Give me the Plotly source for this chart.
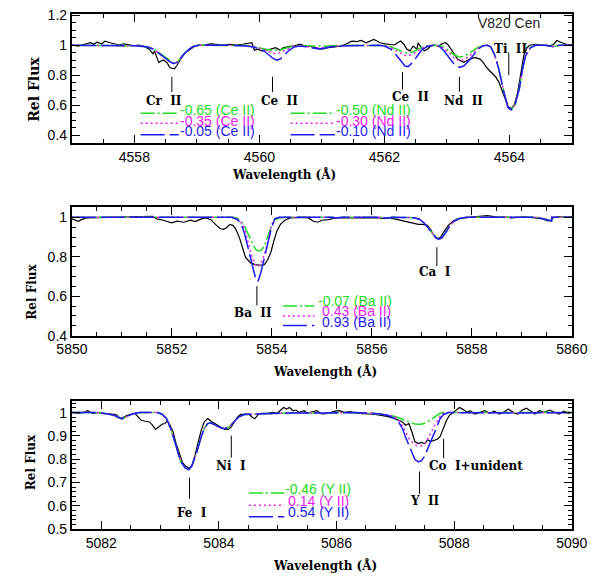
import plotly.graph_objects as go

# ---------------- panel 1 : Ce II / Nd II region ----------------
P1_OBS_W = [4557.00, 4557.10, 4557.20, 4557.30, 4557.35, 4557.40, 4557.48, 4557.53, 4557.61, 4557.68,
            4557.76, 4557.83, 4557.91, 4558.00, 4558.06, 4558.14, 4558.24, 4558.30, 4558.32, 4558.39,
            4558.46, 4558.52, 4558.57, 4558.64, 4558.68, 4558.74, 4558.82, 4558.89, 4558.97, 4559.02,
            4559.12, 4559.22, 4559.32, 4559.42, 4559.53, 4559.63, 4559.73, 4559.83, 4559.88, 4559.92,
            4559.98, 4560.03, 4560.11, 4560.18, 4560.26, 4560.33, 4560.38, 4560.43, 4560.51, 4560.56,
            4560.64, 4560.74, 4560.80, 4560.89, 4561.00, 4561.10, 4561.20, 4561.30, 4561.38, 4561.43,
            4561.48, 4561.56, 4561.63, 4561.71, 4561.78, 4561.83, 4561.88, 4561.93, 4562.01, 4562.09,
            4562.16, 4562.21, 4562.26, 4562.31, 4562.36, 4562.41, 4562.46, 4562.52, 4562.54, 4562.59,
            4562.64, 4562.69, 4562.74, 4562.79, 4562.87, 4562.92, 4562.98, 4563.02, 4563.07, 4563.12,
            4563.17, 4563.22, 4563.27, 4563.32, 4563.37, 4563.45, 4563.53, 4563.58, 4563.63, 4563.68,
            4563.73, 4563.78, 4563.83, 4563.88, 4563.93, 4563.98, 4564.03, 4564.08, 4564.13, 4564.18,
            4564.23, 4564.28, 4564.33, 4564.43, 4564.54, 4564.64, 4564.71, 4564.76, 4564.84, 4564.91,
            4565.00]
P1_OBS_F = [1.002, 0.995, 1.007, 1.017, 1.007, 1.021, 1.010, 1.028, 1.017, 1.010,
            1.002, 1.010, 1.002, 0.997, 1.002, 0.995, 0.974, 0.941, 0.963, 0.886,
            0.902, 0.886, 0.850, 0.843, 0.865, 0.908, 0.952, 0.974, 0.995, 1.002,
            1.002, 1.010, 1.007, 1.002, 1.007, 1.002, 1.007, 1.017, 1.017, 0.967,
            0.974, 0.963, 0.967, 0.974, 0.984, 0.967, 0.984, 0.989, 0.995, 0.995,
            1.007, 0.995, 0.995, 0.984, 0.974, 0.984, 0.989, 0.995, 1.007, 1.017,
            1.028, 1.024, 1.032, 1.017, 1.028, 1.039, 1.028, 1.017, 1.010, 1.007,
            1.002, 1.017, 1.028, 1.007, 0.974, 0.963, 0.995, 0.974, 1.017, 0.984,
            0.963, 0.974, 0.995, 1.002, 0.995, 1.010, 1.017, 1.002, 0.974, 0.941,
            0.908, 0.897, 0.886, 0.897, 0.908, 0.919, 0.908, 0.886, 0.854, 0.832,
            0.810, 0.789, 0.756, 0.702, 0.636, 0.590, 0.577, 0.604, 0.680, 0.810,
            0.930, 0.984, 1.002, 1.007, 1.002, 0.995, 1.007, 1.032, 1.017, 1.007,
            1.002]

P1_SYN_W = [4557.0, 4557.5, 4558.0, 4558.2, 4558.3, 4558.4, 4558.5, 4558.57, 4558.63, 4558.7,
            4558.77, 4558.85, 4558.93, 4559.03, 4559.5, 4559.8, 4559.9, 4560.0, 4560.08, 4560.15,
            4560.22, 4560.28, 4560.34, 4560.4, 4560.47, 4560.55, 4560.65, 4560.75, 4560.85, 4560.95,
            4561.05, 4561.15, 4561.3, 4561.6, 4561.9, 4562.0, 4562.1, 4562.18, 4562.26, 4562.33,
            4562.38, 4562.45, 4562.52, 4562.6, 4562.7, 4562.8, 4562.87, 4562.95, 4563.05, 4563.12,
            4563.2, 4563.27, 4563.35, 4563.43, 4563.5, 4563.58, 4563.65, 4563.7, 4563.76, 4563.83,
            4563.91, 4563.98, 4564.03, 4564.09, 4564.16, 4564.21, 4564.26, 4564.34, 4564.42, 4564.6,
            4564.7, 4564.8, 4565.0]
# synthetic spectra: low / mid / high abundance
P1_SYN_LO = [1.0, 1.0, 0.997, 0.99, 0.977, 0.95, 0.918, 0.895, 0.882, 0.894,
             0.932, 0.966, 0.99, 1.0, 1.0, 0.998, 0.99, 0.984, 0.977, 0.97,
             0.965, 0.965, 0.97, 0.978, 0.988, 0.995, 0.998, 0.997, 0.994, 0.992,
             0.994, 0.997, 1.0, 1.0, 1.0, 0.998, 0.99, 0.975, 0.958, 0.95,
             0.948, 0.955, 0.97, 0.988, 0.998, 1.0, 0.998, 0.988, 0.96, 0.935,
             0.922, 0.925, 0.945, 0.968, 0.988, 0.998, 1.0, 0.99, 0.94, 0.843,
             0.69, 0.582, 0.570, 0.603, 0.712, 0.843, 0.93, 0.985, 1.0, 1.0,
             0.99, 1.0, 1.0]
P1_SYN_MID = [1.0, 1.0, 0.997, 0.99, 0.975, 0.945, 0.912, 0.89, 0.877, 0.89,
              0.93, 0.965, 0.99, 1.0, 1.0, 0.997, 0.99, 0.982, 0.97, 0.958,
              0.947, 0.945, 0.952, 0.965, 0.98, 0.992, 0.996, 0.992, 0.985, 0.98,
              0.985, 0.992, 0.997, 1.0, 1.0, 0.997, 0.985, 0.965, 0.945, 0.932,
              0.93, 0.94, 0.958, 0.98, 0.997, 1.0, 0.997, 0.978, 0.945, 0.912,
              0.898, 0.903, 0.925, 0.955, 0.98, 0.997, 1.0, 0.99, 0.94, 0.843,
              0.69, 0.582, 0.570, 0.603, 0.712, 0.843, 0.93, 0.985, 1.0, 1.0,
              0.99, 1.0, 1.0]
P1_SYN_HI = [1.0, 1.0, 0.997, 0.99, 0.975, 0.945, 0.912, 0.89, 0.877, 0.89,
             0.93, 0.965, 0.99, 1.0, 1.0, 0.996, 0.988, 0.977, 0.96, 0.937,
             0.912, 0.9, 0.91, 0.935, 0.965, 0.988, 0.995, 0.99, 0.98, 0.975,
             0.982, 0.99, 0.996, 1.0, 1.0, 0.995, 0.975, 0.94, 0.9, 0.862,
             0.858, 0.885, 0.925, 0.97, 0.995, 1.0, 0.995, 0.965, 0.91, 0.872,
             0.853, 0.862, 0.895, 0.94, 0.975, 0.997, 1.0, 0.99, 0.94, 0.843,
             0.69, 0.582, 0.570, 0.603, 0.712, 0.843, 0.93, 0.985, 1.0, 1.0,
             0.99, 1.0, 1.0]
P1_CE_ABUND = ["-0.65", "-0.35", "-0.05"]
P1_ND_ABUND = ["-0.50", "-0.30", "-0.10"]
P1_IDS = [("Cr\u00a0\u00a0II", 4558.60), ("Ce\u00a0\u00a0II", 4560.21), ("Ce\u00a0\u00a0II", 4562.29),
          ("Nd\u00a0\u00a0II", 4563.20), ("Ti\u00a0\u00a0II", 4563.99)]

# ---------------- panel 2 : Ba II 5853 ----------------
P2_OBS_W = [5850.00, 5850.06, 5850.13, 5850.19, 5850.28, 5850.51, 5850.76, 5851.01, 5851.26, 5851.52,
            5851.61, 5851.70, 5851.83, 5851.99, 5852.11, 5852.24, 5852.37, 5852.46, 5852.59, 5852.68,
            5852.78, 5852.87, 5852.97, 5853.03, 5853.09, 5853.16, 5853.22, 5853.28, 5853.35, 5853.41,
            5853.47, 5853.57, 5853.66, 5853.79, 5853.85, 5853.91, 5853.98, 5854.04, 5854.10, 5854.17,
            5854.26, 5854.36, 5854.48, 5854.61, 5854.73, 5854.83, 5854.92, 5855.00, 5855.13, 5855.25,
            5855.38, 5855.63, 5856.01, 5856.14, 5856.26, 5856.33, 5856.45, 5856.58, 5856.70, 5856.83,
            5856.93, 5857.02, 5857.11, 5857.18, 5857.24, 5857.30, 5857.37, 5857.43, 5857.53, 5857.62,
            5857.71, 5857.84, 5858.03, 5858.22, 5858.31, 5858.41, 5858.54, 5858.66, 5858.79, 5858.91,
            5859.04, 5859.17, 5859.29, 5859.42, 5859.51, 5859.58, 5859.64, 5859.73, 5860.00]
P2_OBS_F = [0.992, 0.985, 0.980, 0.988, 0.997, 0.998, 1.000, 1.002, 1.005, 1.008,
            1.005, 0.992, 0.985, 0.972, 0.980, 0.975, 0.985, 0.978, 0.992, 0.997,
            0.988, 0.964, 0.942, 0.939, 0.947, 0.964, 0.959, 0.939, 0.897, 0.848,
            0.798, 0.770, 0.760, 0.757, 0.760, 0.782, 0.823, 0.881, 0.931, 0.964,
            0.985, 0.997, 1.000, 1.000, 0.997, 0.980, 0.975, 0.985, 0.988, 0.995,
            0.998, 0.998, 1.000, 0.997, 0.993, 0.997, 0.992, 0.985, 0.975, 0.969,
            0.964, 0.964, 0.959, 0.935, 0.909, 0.892, 0.897, 0.922, 0.959, 0.980,
            0.992, 0.997, 1.000, 1.005, 1.008, 1.005, 1.000, 1.002, 0.997, 1.000,
            1.002, 1.000, 0.997, 0.992, 0.982, 0.985, 1.000, 1.002, 1.002]

P2_SYN_W = [5850.0, 5853.2, 5853.3, 5853.38, 5853.45, 5853.52, 5853.6, 5853.67, 5853.72, 5853.78,
            5853.85, 5853.92, 5853.99, 5854.06, 5854.15, 5854.3, 5855.2, 5855.3, 5855.4, 5856.2,
            5856.3, 5856.4, 5856.85, 5856.95, 5857.05, 5857.13, 5857.21, 5857.28, 5857.34, 5857.40,
            5857.47, 5857.55, 5857.64, 5857.75, 5857.9, 5859.3, 5859.42, 5859.52, 5859.595, 5859.6,
            5860.0]
P2_SYN_LO = [1.0, 1.0, 0.996, 0.98, 0.955, 0.915, 0.87, 0.838, 0.83, 0.832,
             0.855, 0.905, 0.955, 0.985, 0.997, 1.0, 1.0, 0.996, 1.0, 1.0,
             0.995, 1.0, 0.998, 0.99, 0.97, 0.945, 0.918, 0.896, 0.889, 0.896,
             0.92, 0.953, 0.98, 0.994, 1.0, 1.0, 0.993, 0.985, 0.981, 1.0,
             1.0]
P2_SYN_MID = [1.0, 1.0, 0.993, 0.975, 0.945, 0.875, 0.8, 0.758, 0.747, 0.765,
              0.81, 0.88, 0.96, 0.993, 1.0, 1.0, 1.0, 0.996, 1.0, 1.0,
              0.995, 1.0, 0.998, 0.99, 0.97, 0.945, 0.918, 0.896, 0.889, 0.896,
              0.92, 0.953, 0.98, 0.994, 1.0, 1.0, 0.993, 0.985, 0.981, 1.0,
              1.0]
P2_SYN_HI = [1.0, 1.0, 0.99, 0.97, 0.92, 0.845, 0.76, 0.695, 0.674, 0.72,
             0.795, 0.87, 0.945, 0.993, 1.0, 1.0, 1.0, 0.996, 1.0, 1.0,
             0.995, 1.0, 0.998, 0.99, 0.97, 0.945, 0.918, 0.896, 0.889, 0.896,
             0.92, 0.953, 0.98, 0.994, 1.0, 1.0, 0.993, 0.985, 0.981, 1.0,
             1.0]
P2_BA_ABUND = ["-0.07", "0.43", "0.93"]
P2_IDS = [("Ba\u00a0\u00a0II", 5853.70), ("Ca\u00a0\u00a0I", 5857.30)]

# ---------------- panel 3 : Y II 5087 ----------------
P3_OBS_W = [5081.50, 5081.61, 5081.71, 5081.77, 5081.85, 5081.93, 5082.04, 5082.14, 5082.25, 5082.33,
            5082.39, 5082.44, 5082.52, 5082.57, 5082.63, 5082.68, 5082.73, 5082.82, 5082.87, 5082.92,
            5082.98, 5083.03, 5083.08, 5083.12, 5083.16, 5083.22, 5083.27, 5083.33, 5083.38, 5083.43,
            5083.49, 5083.54, 5083.59, 5083.65, 5083.70, 5083.75, 5083.81, 5083.86, 5083.94, 5084.02,
            5084.10, 5084.16, 5084.21, 5084.26, 5084.32, 5084.37, 5084.43, 5084.51, 5084.56, 5084.61,
            5084.67, 5084.72, 5084.83, 5084.91, 5084.99, 5085.04, 5085.10, 5085.15, 5085.20, 5085.26,
            5085.31, 5085.36, 5085.45, 5085.50, 5085.58, 5085.66, 5085.75, 5085.86, 5085.97, 5086.05,
            5086.13, 5086.23, 5086.34, 5086.45, 5086.56, 5086.66, 5086.77, 5086.88, 5086.99, 5087.07,
            5087.12, 5087.17, 5087.23, 5087.28, 5087.33, 5087.39, 5087.44, 5087.50, 5087.55, 5087.60,
            5087.66, 5087.71, 5087.76, 5087.82, 5087.87, 5087.92, 5087.98, 5088.03, 5088.09, 5088.14,
            5088.22, 5088.27, 5088.35, 5088.44, 5088.52, 5088.60, 5088.68, 5088.76, 5088.84, 5088.92,
            5089.00, 5089.08, 5089.16, 5089.23, 5089.29, 5089.37, 5089.45, 5089.53, 5089.62, 5089.70,
            5089.78, 5089.86, 5089.94, 5090.00]
P3_OBS_F = [1.001, 0.997, 1.001, 1.008, 0.997, 1.001, 0.997, 0.994, 0.992, 0.974,
            0.983, 0.988, 0.992, 0.997, 0.981, 0.967, 0.964, 0.960, 0.946, 0.928,
            0.939, 0.950, 0.953, 0.964, 0.950, 0.918, 0.869, 0.821, 0.786, 0.772,
            0.761, 0.772, 0.814, 0.876, 0.925, 0.960, 0.974, 0.964, 0.950, 0.939,
            0.928, 0.928, 0.939, 0.960, 0.983, 0.992, 0.994, 0.994, 0.981, 0.974,
            0.992, 0.997, 0.997, 1.001, 0.997, 1.008, 1.022, 1.015, 1.022, 1.008,
            1.011, 1.001, 1.008, 0.997, 1.001, 1.008, 0.994, 0.997, 1.006, 1.008,
            1.001, 1.004, 0.997, 0.994, 0.994, 0.992, 0.988, 0.983, 0.974, 0.967,
            0.960, 0.946, 0.953, 0.918, 0.876, 0.867, 0.872, 0.867, 0.883, 0.876,
            0.881, 0.886, 0.897, 0.932, 0.967, 0.988, 1.001, 1.011, 1.022, 1.015,
            1.001, 1.008, 0.994, 1.001, 1.008, 0.997, 1.006, 0.994, 1.001, 1.015,
            1.001, 0.994, 1.011, 1.019, 1.008, 0.994, 1.008, 1.001, 1.011, 1.001,
            0.994, 1.006, 0.997, 1.001]

P3_SYN_W = [5081.5, 5081.9, 5082.1, 5082.22, 5082.3, 5082.36, 5082.43, 5082.52, 5082.65, 5082.95,
            5083.03, 5083.11, 5083.19, 5083.27, 5083.35, 5083.43, 5083.49, 5083.54, 5083.62, 5083.70,
            5083.75, 5083.81, 5083.86, 5083.94, 5084.02, 5084.10, 5084.18, 5084.26, 5084.34, 5084.43,
            5084.72, 5085.2, 5085.8, 5086.3, 5086.6, 5086.75, 5086.88, 5086.99, 5087.07, 5087.12,
            5087.17, 5087.23, 5087.28, 5087.33, 5087.39, 5087.44, 5087.50, 5087.55, 5087.60, 5087.66,
            5087.71, 5087.76, 5087.82, 5087.9, 5088.0, 5089.0, 5090.0]
P3_SYN_LO = [1.0, 1.0, 0.995, 0.988, 0.978, 0.974, 0.982, 0.994, 1.0, 1.0,
             0.994, 0.974, 0.925, 0.853, 0.79, 0.762, 0.756, 0.772, 0.828, 0.897,
             0.932, 0.953, 0.956, 0.946, 0.936, 0.931, 0.94, 0.962, 0.982, 0.992,
             0.995, 0.998, 0.998, 1.0, 0.997, 0.994, 0.99, 0.983, 0.975, 0.97,
             0.965, 0.958, 0.954, 0.951, 0.95, 0.95, 0.954, 0.96, 0.969, 0.98,
             0.99, 0.997, 1.0, 1.0, 1.0, 0.998, 1.0]
P3_SYN_MID = [1.0, 1.0, 0.995, 0.988, 0.978, 0.974, 0.982, 0.994, 1.0, 1.0,
              0.994, 0.974, 0.925, 0.853, 0.79, 0.762, 0.756, 0.772, 0.828, 0.897,
              0.932, 0.953, 0.956, 0.946, 0.936, 0.931, 0.94, 0.962, 0.982, 0.992,
              0.995, 0.998, 0.998, 1.0, 0.997, 0.994, 0.99, 0.981, 0.962, 0.942,
              0.918, 0.89, 0.875, 0.862, 0.858, 0.858, 0.866, 0.886, 0.911, 0.942,
              0.965, 0.983, 0.997, 1.0, 1.0, 0.998, 1.0]
P3_SYN_HI = [1.0, 1.0, 0.995, 0.988, 0.978, 0.974, 0.982, 0.994, 1.0, 1.0,
             0.994, 0.974, 0.925, 0.853, 0.79, 0.762, 0.756, 0.772, 0.828, 0.897,
             0.932, 0.953, 0.956, 0.946, 0.936, 0.931, 0.94, 0.962, 0.982, 0.992,
             0.995, 0.998, 0.998, 1.0, 0.997, 0.994, 0.988, 0.974, 0.953, 0.932,
             0.897, 0.862, 0.828, 0.80, 0.789, 0.793, 0.814, 0.849, 0.876, 0.911,
             0.946, 0.974, 0.992, 1.0, 1.0, 0.998, 1.0]
P3_Y_ABUND = ["-0.46", "0.14", "0.54"]
P3_IDS = [("Fe\u00a0\u00a0I", 5083.50), ("Ni\u00a0\u00a0I", 5084.21), ("Y\u00a0\u00a0II", 5087.41),
          ("Co\u00a0\u00a0I+unident", 5087.82)]

# ---------------- styling ----------------
W, H = 604, 585
GREEN, MAGENTA, BLUE = "#22dd22", "#f020f0", "#1c1cf0"
DASHES = ["14px,3px,2px,3px", "2px,3px", "24px,5px"]
COLORS = [GREEN, MAGENTA, BLUE]
TICK_FONT = dict(family="Liberation Sans, Arial, sans-serif", size=14, color="black")
SERIF = "DejaVu Serif, serif"

X0, X1 = 59, 587
PANEL_PX = [(7.3, 139.3), (205.7, 337.3), (404.3, 536.0)]


def pxx(p):
    return p / W


def pxy(p):
    return 1 - p / H


fig = go.Figure()

panels = [
    dict(obs=(P1_OBS_W, P1_OBS_F), syn=(P1_SYN_W, [P1_SYN_LO, P1_SYN_MID, P1_SYN_HI]),
         xr=[4557, 4565], yr=[0.35, 1.208], ydt=0.2, ymin=0.05),
    dict(obs=(P2_OBS_W, P2_OBS_F), syn=(P2_SYN_W, [P2_SYN_LO, P2_SYN_MID, P2_SYN_HI]),
         xr=[5849.999, 5860.001], yr=[0.4, 1.05], ydt=0.2, ymin=0.05),
    dict(obs=(P3_OBS_W, P3_OBS_F), syn=(P3_SYN_W, [P3_SYN_LO, P3_SYN_MID, P3_SYN_HI]),
         xr=[5081.5, 5090.001], yr=[0.5, 1.05], ydt=0.1, ymin=0.02),
]

for i, p in enumerate(panels):
    xa = "x" if i == 0 else f"x{i + 1}"
    ya = "y" if i == 0 else f"y{i + 1}"
    fig.add_trace(go.Scatter(x=p["obs"][0], y=p["obs"][1], mode="lines", xaxis=xa, yaxis=ya,
                             line=dict(color="black", width=1.2), showlegend=False, hoverinfo="skip"))
    sw, fluxes = p["syn"]
    for f, c, d in zip(fluxes, COLORS, DASHES):
        fig.add_trace(go.Scatter(x=sw, y=f, mode="lines", xaxis=xa, yaxis=ya,
                                 line=dict(color=c, width=1.5, dash=d), showlegend=False,
                                 hoverinfo="skip"))
    top, bot = PANEL_PX[i]
    axis_common = dict(showline=True, linecolor="black", linewidth=2, mirror="allticks",
                       ticks="inside", ticklen=8, tickwidth=1.2, tickcolor="black",
                       showgrid=False, zeroline=False, tickfont=TICK_FONT)
    fig.layout[("xaxis" if i == 0 else f"xaxis{i + 1}")] = dict(
        domain=[pxx(X0), pxx(X1)], range=p["xr"], anchor=ya, dtick=2, tick0=0,
        minor=dict(dtick=0.5, ticklen=4, tickcolor="black", ticks="inside", tickwidth=1),
        **axis_common)
    fig.layout[("yaxis" if i == 0 else f"yaxis{i + 1}")] = dict(
        domain=[pxy(bot), pxy(top)], range=p["yr"], anchor=xa, dtick=p["ydt"], tick0=0,
        minor=dict(dtick=p["ymin"], ticklen=4, tickcolor="black", ticks="inside", tickwidth=1),
        **axis_common)


def legend_block(xa, ya, x_start, x_end, line_y, text_y, labels, species, shifts):
    for k in range(3):
        fig.add_trace(go.Scatter(x=[x_start, x_end], y=[line_y[k], line_y[k]], mode="lines",
                                 xaxis=xa, yaxis=ya, showlegend=False, hoverinfo="skip",
                                 line=dict(color=COLORS[k], width=1.5, dash=DASHES[k])))
        fig.add_annotation(x=x_end, y=text_y[k], xref=xa, yref=ya, text=f"{labels[k]} ({species})",
                           showarrow=False, xanchor="left", yanchor="middle", xshift=shifts[k] - 1,
                           font=dict(family="Liberation Sans, Arial, sans-serif", size=14,
                                     color=COLORS[k]))


def line_id(xa, ya, label, wl, y_top, y_bot, lx, ly):
    fig.add_shape(type="line", xref=xa, yref=ya, x0=wl, x1=wl, y0=y_top, y1=y_bot,
                  line=dict(color="black", width=1))
    fig.add_annotation(x=lx, y=ly, xref=xa, yref=ya, text=label, showarrow=False,
                       xanchor="center", yanchor="middle",
                       font=dict(family=SERIF, size=12, color="black", weight="bold"))


# legends
legend_block("x", "y", 4558.10, 4558.71, [0.547, 0.480, 0.404], [0.567, 0.497, 0.426],
             P1_CE_ABUND, "Ce II", [0, 0, 0])
legend_block("x", "y", 4560.50, 4561.21, [0.547, 0.480, 0.404], [0.567, 0.497, 0.426],
             P1_ND_ABUND, "Nd II", [0, 0, 0])
legend_block("x2", "y2", 5854.22, 5854.85, [0.550, 0.500, 0.451], [0.575, 0.525, 0.470],
             P2_BA_ABUND, "Ba II", [3, 7, 7])
legend_block("x3", "y3", 5084.51, 5085.11, [0.655, 0.603, 0.554], [0.672, 0.623, 0.575],
             P3_Y_ABUND, "Y II", [0, 3, 3])

# line identifications
p1_geo = [(0.790, 0.688, 4558.48, 0.627), (0.790, 0.688, 4560.32, 0.627),
          (0.822, 0.703, 4562.42, 0.653), (0.790, 0.690, 4563.26, 0.627),
          (0.952, 0.801, 4564.02, 0.978)]
for (lab, wl), (yt, yb, lx, ly) in zip(P1_IDS, p1_geo):
    line_id("x", "y", lab, wl, yt, yb, lx, ly)
p2_geo = [(0.651, 0.553, 5853.62, 0.517), (0.848, 0.753, 5857.27, 0.725)]
for (lab, wl), (yt, yb, lx, ly) in zip(P2_IDS, p2_geo):
    line_id("x2", "y2", lab, wl, yt, yb, lx, ly)
p3_geo = [(0.721, 0.630, 5083.54, 0.571), (0.901, 0.807, 5084.21, 0.769),
          (0.748, 0.651, 5087.51, 0.621), (0.888, 0.804, 5088.37, 0.769)]
for (lab, wl), (yt, yb, lx, ly) in zip(P3_IDS, p3_geo):
    line_id("x3", "y3", lab, wl, yt, yb, lx, ly)

fig.add_annotation(x=4564.0, y=1.147, xref="x", yref="y", text="V820 Cen", showarrow=False,
                   font=dict(family="Liberation Sans, Arial, sans-serif", size=14, color="#222"))

# axis titles
for cx, cy in [(282.5, 171.7), (326.5, 374.0), (326.5, 572.7)]:
    fig.add_annotation(x=pxx(cx), y=pxy(cy), xref="paper", yref="paper", text="Wavelength (Å)",
                       showarrow=False, xanchor="center", yanchor="middle",
                       font=dict(family=SERIF, size=12, color="black", weight="bold"))
for cx, cy, sz in [(19, 84, 14), (16, 292, 12), (16, 467, 12)]:
    fig.add_annotation(x=pxx(cx), y=pxy(cy), xref="paper", yref="paper", text="Rel Flux",
                       showarrow=False, textangle=-90, xanchor="center", yanchor="middle",
                       font=dict(family=SERIF, size=sz, color="black", weight="bold"))

fig.update_layout(width=W, height=H, margin=dict(l=0, r=0, t=0, b=0),
                  paper_bgcolor="white", plot_bgcolor="white", showlegend=False)
fig.write_html("out.html")
